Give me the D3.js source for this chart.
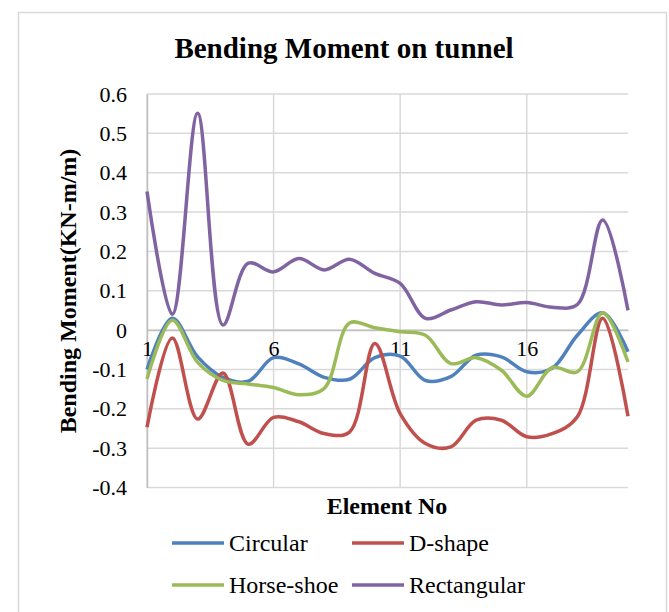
<!DOCTYPE html>
<html>
<head>
<meta charset="utf-8">
<script src="https://cdn.jsdelivr.net/npm/d3@7"></script>
<style>
  body { margin: 0; background: #fff; }
  text { font-family: "Liberation Serif", "Times New Roman", serif; fill: #000; }
</style>
</head>
<body>
<div id="my_dataviz"></div>
<script>

// element numbers on the x axis
var elements = [1, 2, 3, 4, 5, 6, 7, 8, 9, 10, 11, 12, 13, 14, 15, 16, 17, 18, 19, 20];
var xTickLabels = [1, 6, 11, 16];
var yTicks = [-0.4, -0.3, -0.2, -0.1, 0, 0.1, 0.2, 0.3, 0.4, 0.5, 0.6];

// bending moment values
var circular = [-0.1, 0.03, -0.068, -0.12, -0.13, -0.07, -0.086, -0.12, -0.125, -0.07,
  -0.066, -0.128, -0.118, -0.064, -0.068, -0.106, -0.097, -0.013, 0.044, -0.055];
var dShape = [-0.247, -0.02, -0.226, -0.109, -0.29, -0.222, -0.233, -0.263, -0.259, -0.034,
  -0.212, -0.288, -0.297, -0.229, -0.229, -0.271, -0.263, -0.22, 0.03, -0.219];
var horseShoe = [-0.124, 0.025, -0.082, -0.128, -0.137, -0.146, -0.164, -0.148, 0.018, 0.006,
  -0.004, -0.013, -0.085, -0.07, -0.102, -0.168, -0.095, -0.106, 0.044, -0.081];
var rectangular = [0.352, 0.04, 0.551, 0.013, 0.17, 0.148, 0.182, 0.153, 0.18, 0.144,
  0.119, 0.03, 0.051, 0.072, 0.064, 0.07, 0.058, 0.065, 0.28, 0.05];

var seriesNames = ["Circular", "D-shape", "Horse-shoe", "Rectangular"];
var seriesColors = ["#4F81BD", "#C0504D", "#9BBB59", "#8064A2"];

var series = [circular, dShape, horseShoe, rectangular].map(function (vals, i) {
  return { name: seriesNames[i], color: seriesColors[i], values: vals };
});

var width = 669, height = 612;
var plot = { left: 147, right: 628, top: 94, bottom: 487.5 };
var serif = "'Liberation Serif', 'Times New Roman', serif";

var svg = d3.select("#my_dataviz")
  .append("svg")
  .attr("width", width)
  .attr("height", height);

// chart frame
svg.append("rect")
  .attr("x", 18.5)
  .attr("y", 12.5)
  .attr("width", 648)
  .attr("height", 620)
  .attr("fill", "#fff")
  .attr("stroke", "#d9d9d9")
  .attr("stroke-width", 1.5);

var x = d3.scalePoint()
  .domain(elements)
  .range([plot.left, plot.right]);

var y = d3.scaleLinear()
  .domain([-0.4, 0.6])
  .range([plot.bottom, plot.top]);

// horizontal gridlines
svg.append("g")
  .selectAll("line")
  .data(yTicks)
  .enter()
  .append("line")
  .attr("x1", plot.left)
  .attr("x2", plot.right)
  .attr("y1", function (d) { return y(d); })
  .attr("y2", function (d) { return y(d); })
  .attr("stroke", "#d9d9d9")
  .attr("stroke-width", 1.5);

// vertical gridlines at labelled elements
svg.append("g")
  .selectAll("line")
  .data(xTickLabels)
  .enter()
  .append("line")
  .attr("x1", function (d) { return x(d); })
  .attr("x2", function (d) { return x(d); })
  .attr("y1", plot.top)
  .attr("y2", plot.bottom)
  .attr("stroke", "#d9d9d9")
  .attr("stroke-width", 1.5);

// Y axis (hyphen minus like the original)
var yAxis = svg.append("g")
  .attr("transform", "translate(" + plot.left + ",0)")
  .call(d3.axisLeft(y).tickValues(yTicks).tickSize(0).tickPadding(20)
    .tickFormat(function (d) { return d === 0 ? "0" : d.toFixed(1); }));
yAxis.select(".domain").attr("stroke", "#bfbfbf").attr("stroke-width", 1.5);
yAxis.selectAll("text")
  .style("font-size", "22px")
  .style("font-family", serif);

// X axis crossing at zero
var xAxis = svg.append("g")
  .attr("transform", "translate(0," + y(0) + ")")
  .call(d3.axisBottom(x).tickValues(xTickLabels).tickSize(0).tickPadding(10));
xAxis.select(".domain").attr("stroke", "#bfbfbf").attr("stroke-width", 1.5);
xAxis.selectAll("text")
  .style("font-size", "22px")
  .style("font-family", serif);

// lines
var line = d3.line()
  .x(function (d, i) { return x(elements[i]); })
  .y(function (d) { return y(d); })
  .curve(d3.curveCatmullRom);

svg.append("g")
  .selectAll("path")
  .data(series)
  .enter()
  .append("path")
  .attr("fill", "none")
  .attr("stroke", function (d) { return d.color; })
  .attr("stroke-width", 3.5)
  .attr("stroke-linejoin", "round")
  .attr("d", function (d) { return line(d.values); });

// titles
svg.append("text")
  .attr("x", 344)
  .attr("y", 58)
  .attr("text-anchor", "middle")
  .style("font-size", "29px")
  .style("font-weight", "bold")
  .text("Bending Moment on tunnel");

svg.append("text")
  .attr("x", 387)
  .attr("y", 514)
  .attr("text-anchor", "middle")
  .style("font-size", "24px")
  .style("font-weight", "bold")
  .text("Element No");

svg.append("text")
  .attr("transform", "translate(76,291) rotate(-90)")
  .attr("text-anchor", "middle")
  .style("font-size", "24px")
  .style("font-weight", "bold")
  .text("Bending Moment(KN-m/m)");

// legend (2 x 2)
var legend = svg.append("g")
  .selectAll("g")
  .data(series)
  .enter()
  .append("g")
  .attr("transform", function (d, i) {
    return "translate(" + (i % 2 === 0 ? 172 : 352) + "," + (i < 2 ? 543 : 585) + ")";
  });

legend.append("line")
  .attr("x1", 0)
  .attr("x2", 52)
  .attr("stroke", function (d) { return d.color; })
  .attr("stroke-width", 3.5);

legend.append("text")
  .attr("x", 57)
  .attr("dy", "0.35em")
  .style("font-size", "24px")
  .text(function (d) { return d.name; });

</script>
</body>
</html>
